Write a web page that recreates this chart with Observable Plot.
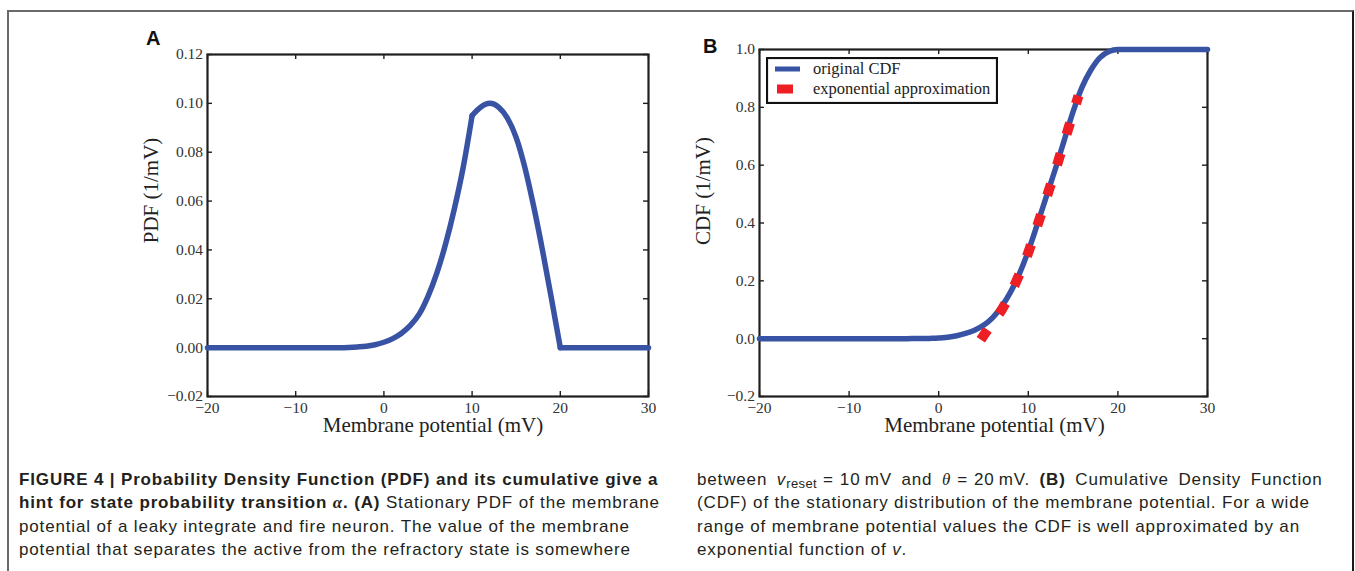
<!DOCTYPE html>
<html>
<head>
<meta charset="utf-8">
<script src="https://cdn.jsdelivr.net/npm/d3@7"></script>
<script src="https://cdn.jsdelivr.net/npm/@observablehq/plot@0.6"></script>
<style>
  html, body { margin: 0; padding: 0; background: #fff; }
  #page { position: relative; width: 1355px; height: 571px; overflow: hidden; background: #fff; }
  #frame { position: absolute; left: 7px; top: 10px; width: 1347px; height: 620px; box-sizing: border-box;
           border: 2px solid #6a6a6a; border-right-color: #1a1a1a; }
  .panel { position: absolute; }
  .letter { position: absolute; font-family: "Liberation Sans", Arial, sans-serif; font-weight: bold; font-size: 20px; color: #111; }
  .legend { position: absolute; }
  .caption { position: absolute; top: 468px; font-family: "Liberation Sans", Arial, sans-serif; font-size: 17px;
             letter-spacing: 0.85px; line-height: 23.3px; color: #231f20; white-space: nowrap; }
  .caption b { font-weight: bold; }
  .caption sub { font-size: 13px; vertical-align: -3px; line-height: 0; letter-spacing: 0.4px; }
  .math { font-family: "Liberation Serif", serif; font-style: italic; }
  .eq { display: inline-block; margin: 0 6px; }
  .wide { word-spacing: 4px; }
</style>
</head>
<body>
<div id="page">
  <div id="frame"></div>
  <div class="letter" style="left:146px; top:27px;">A</div>
  <div class="letter" style="left:703px; top:35px;">B</div>
  <div id="panelA" class="panel" style="left:100px; top:20px;"></div>
  <div id="panelB" class="panel" style="left:680px; top:20px;"></div>
  <div id="legend" class="legend" style="left:766px; top:57px;"></div>
  <div class="caption" style="left:19px;">
    <b>FIGURE 4 | Probability Density Function (PDF) and its cumulative give a</b><br>
    <b>hint for state probability transition <span class="math">α</span>. (A)</b> Stationary PDF of the membrane<br>
    potential of a leaky integrate and fire neuron. The value of the membrane<br>
    potential that separates the active from the refractory state is somewhere
  </div>
  <div class="caption" style="left:697px;">
    <span class="wide">between <i>v</i><sub>reset</sub><span class="eq">=</span>10&#8201;mV and <span class="math">θ</span><span class="eq">=</span>20&#8201;mV. <b>(B)</b> Cumulative Density Function</span><br>
    (CDF) of the stationary distribution of the membrane potential. For a wide<br>
    range of membrane potential values the CDF is well approximated by an<br>
    exponential function of <i>v</i>.
  </div>
</div>
<script>
// ---------- data ----------
const xTicks = [-20, -10, 0, 10, 20, 30];
const pdfTicks = [-0.02, 0.00, 0.02, 0.04, 0.06, 0.08, 0.10, 0.12];
const cdfTicks = [-0.2, 0.0, 0.2, 0.4, 0.6, 0.8, 1.0];

// stationary PDF of the membrane potential (1/mV); kinks at v_reset = 10 and theta = 20
const pdfKinks = [10, 20];
const pdfV = [-20, -15, -10, -6, -5, -4, -3, -2, -1, 0, 1, 2, 3, 4, 5, 6, 7, 8, 9, 10,
              11, 12, 13, 14, 15, 16, 17, 18, 19, 20, 25, 30];
const pdfP = [0, 0, 0, 0, 0, 0.0001, 0.0003, 0.0006, 0.0012, 0.0022, 0.0037, 0.0059, 0.0091, 0.0137, 0.021, 0.0305, 0.0425, 0.057, 0.074, 0.095,
              0.0985, 0.100, 0.0985, 0.094, 0.086, 0.0735, 0.0575, 0.0395, 0.020, 0, 0, 0];

// original CDF
const cdfV = [-20, -10, -4, -3, -2, -1, 0, 1, 2, 3, 4, 5, 6, 7, 8, 9, 10, 11, 12, 13, 14, 15, 16, 17, 18, 19, 20, 25, 30];
const cdfP = [0, 0, 0, 0.0002, 0.0005, 0.001, 0.002, 0.005, 0.010, 0.018, 0.029, 0.046, 0.072, 0.110, 0.160, 0.224, 0.303,
              0.395, 0.490, 0.585, 0.685, 0.785, 0.870, 0.930, 0.972, 0.993, 1.0, 1.0, 1.0];

// exponential approximation
const approxV = [4.7, 5, 6, 7, 8, 9, 10, 11, 12, 13, 14, 15, 15.6];
const approxP = [-0.004, 0.01, 0.055, 0.098, 0.155, 0.222, 0.298, 0.39, 0.485, 0.58, 0.68, 0.78, 0.84];

const legendLabels = ["original CDF", "exponential approximation"];

// ---------- styles ----------
const BLUE = "#3953a4";
const RED = "#ed1f24";
const AXIS = "#1e1e1e";
const SERIF = "'Liberation Serif', 'Times New Roman', serif";

// build PDF table split into segments at the kinks (kink points shared by both sides)
const pdfData = [];
pdfV.forEach((v, i) => {
  const seg = pdfKinks.filter(k => v > k).length;
  pdfData.push({v, p: pdfP[i], seg});
  if (pdfKinks.includes(v)) pdfData.push({v, p: pdfP[i], seg: seg + 1});
});
const cdfData = cdfV.map((v, i) => ({v, p: cdfP[i]}));
const approxData = approxV.map((v, i) => ({v, p: approxP[i]}));

function panel({width, height, mL, mR, mT, mB, yDomain, yTicks, yFmt, yLabel, yLabelDy, xLabelDx, lines}) {
  const pw = width - mL - mR, ph = height - mT - mB, t = 5;
  return Plot.plot({
    width, height, marginLeft: mL, marginRight: mR, marginTop: mT, marginBottom: mB,
    style: {fontFamily: SERIF, fontSize: "15.5px", color: "#222", background: "transparent", overflow: "visible"},
    x: {domain: [-20, 30]},
    y: {domain: yDomain},
    marks: [
      Plot.frame({stroke: AXIS, strokeWidth: 2.2}),
      Plot.tickX(xTicks, {x: d => d, stroke: AXIS, strokeWidth: 1.4, insetTop: ph - t}),
      Plot.tickX(xTicks, {x: d => d, stroke: AXIS, strokeWidth: 1.4, insetBottom: ph - t}),
      Plot.tickY(yTicks, {y: d => d, stroke: AXIS, strokeWidth: 1.4, insetRight: pw - t}),
      Plot.tickY(yTicks, {y: d => d, stroke: AXIS, strokeWidth: 1.4, insetLeft: pw - t}),
      Plot.axisX(xTicks, {tickSize: 0, tickPadding: 5, label: null, tickFormat: d3.format("d"), fill: "#333", fontSize: 15.5}),
      Plot.axisY(yTicks, {tickSize: 0, tickPadding: 4.5, label: null, tickFormat: d3.format(yFmt), fill: "#333", fontSize: 15.5}),
      Plot.text(["Membrane potential (mV)"], {frameAnchor: "bottom", lineAnchor: "middle", textAnchor: "middle",
        dx: xLabelDx, dy: 28.5, fontSize: 21, fill: "#222"}),
      Plot.text([yLabel], {frameAnchor: "left", lineAnchor: "middle", textAnchor: "middle", rotate: -90,
        dx: -56, dy: yLabelDy, fontSize: 21, fill: "#222"}),
      ...lines
    ]
  });
}

document.getElementById("panelA").append(panel({
  width: 580, height: 430, mL: 107, mR: 32, mT: 34, mB: 54,
  yDomain: [-0.02, 0.12], yTicks: pdfTicks, yFmt: ".2f", yLabel: "PDF (1/mV)", yLabelDy: -35, xLabelDx: 5,
  lines: [
    Plot.line(pdfData, {x: "v", y: "p", z: "seg", curve: "monotone-x", stroke: BLUE, strokeWidth: 5.5, strokeLinejoin: "round"})
  ]
}));

document.getElementById("panelB").append(panel({
  width: 560, height: 430, mL: 79, mR: 33, mT: 29, mB: 54,
  yDomain: [-0.2, 1.0], yTicks: cdfTicks, yFmt: ".1f", yLabel: "CDF (1/mV)", yLabelDy: -32, xLabelDx: 11,
  lines: [
    Plot.line(cdfData, {x: "v", y: "p", curve: "monotone-x", stroke: BLUE, strokeWidth: 5.5}),
    Plot.line(approxData, {x: "v", y: "p", curve: "monotone-x", stroke: RED, strokeWidth: 10, strokeDasharray: "12,20", strokeLinecap: "butt"})
  ]
}));

// legend (matplotlib-style box)
const lg = d3.select("#legend").append("svg").attr("width", 232).attr("height", 47)
  .style("font-family", SERIF).style("font-size", "16.5px");
lg.append("rect").attr("x", 1).attr("y", 1).attr("width", 230).attr("height", 45)
  .attr("fill", "#fff").attr("stroke", "#111").attr("stroke-width", 2.2);
lg.append("line").attr("x1", 9).attr("x2", 34).attr("y1", 12).attr("y2", 12)
  .attr("stroke", BLUE).attr("stroke-width", 5);
lg.append("line").attr("x1", 11).attr("x2", 27).attr("y1", 32).attr("y2", 32)
  .attr("stroke", RED).attr("stroke-width", 9);
lg.selectAll("text.lab").data(legendLabels).join("text").attr("class", "lab")
  .attr("x", 47).attr("y", (d, i) => 17 + i * 20).attr("fill", "#222").text(d => d);
</script>
</body>
</html>
